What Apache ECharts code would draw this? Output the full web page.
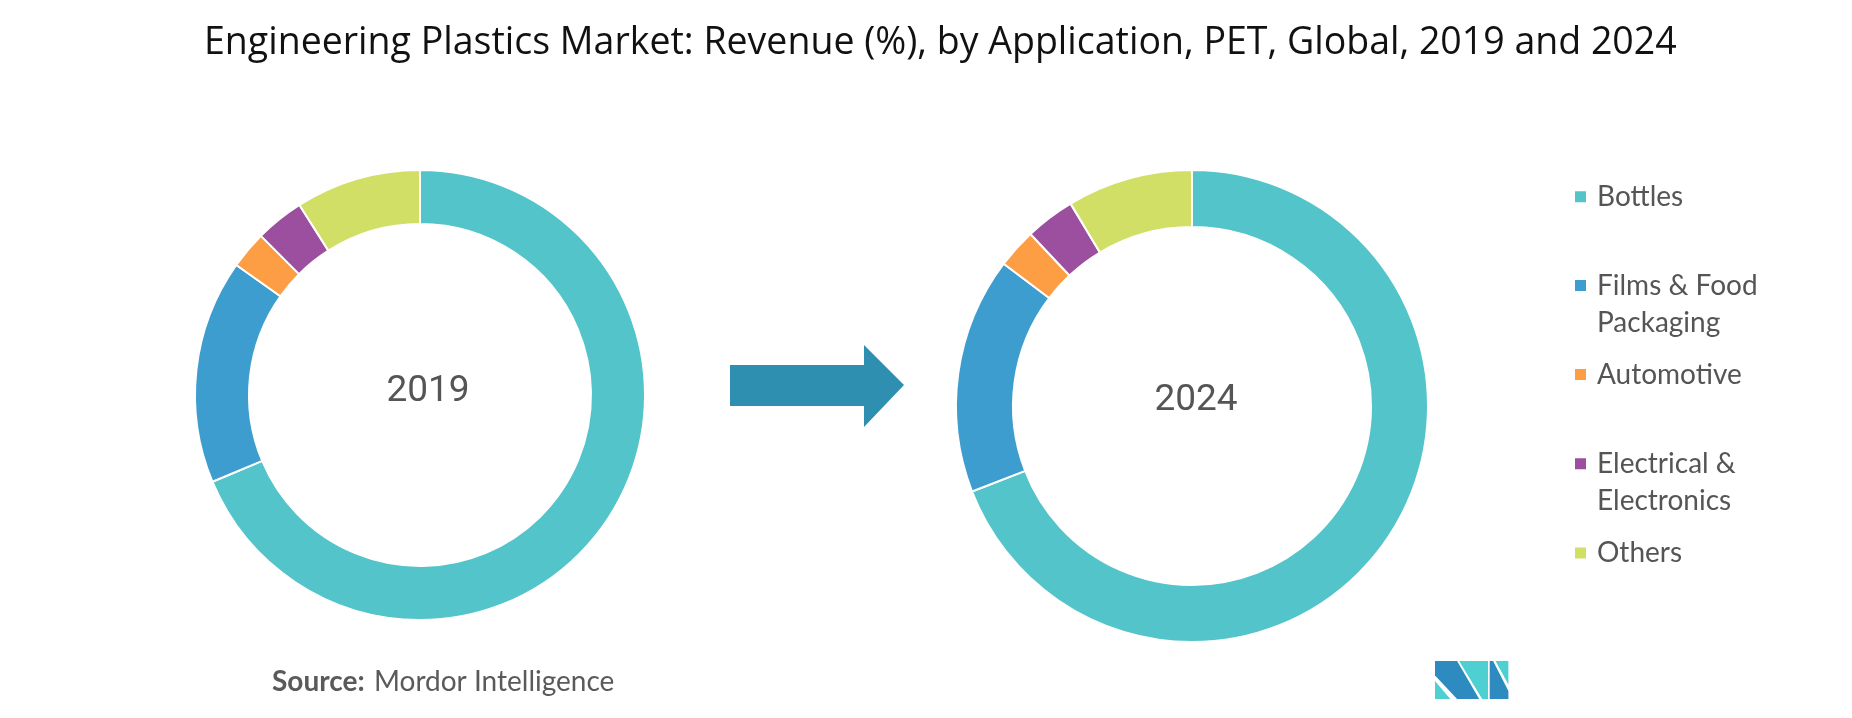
<!DOCTYPE html>
<html>
<head>
<meta charset="utf-8">
<script src="https://cdn.jsdelivr.net/npm/echarts@6/dist/echarts.min.js"></script>
<style>
html,body{margin:0;padding:0;background:#fff;}
#chart{width:1852px;height:718px;}
</style>
</head>
<body>
<div id="chart"></div>
<script>
const categories = ['Bottles', 'Films & Food Packaging', 'Automotive', 'Electrical & Electronics', 'Others'];
const legendLabels = ['Bottles', 'Films & Food\nPackaging', 'Automotive', 'Electrical &\nElectronics', 'Others'];
const years = ['2019', '2024'];
const values2019 = [68.7, 16.1, 2.7, 3.5, 9.0];
const values2024 = [69.1, 16.2, 2.7, 3.4, 8.6];
const colors = ['#53C4C9', '#3E9DCF', '#FD9E44', '#9B4F9E', '#D1DF66'];

const chart = echarts.init(document.getElementById('chart'), null, {renderer: 'canvas'});

const legendIconCenters = [196.7, 285.5, 374.5, 463.7, 553];
const LH = 37;
const legends = categories.map((name, i) => {
  const twoLine = legendLabels[i].indexOf('\n') >= 0;
  return {
    orient: 'vertical',
    left: 1573,
    top: twoLine ? legendIconCenters[i] - 1.5 * LH : legendIconCenters[i] - LH / 2,
    padding: 0,
    itemWidth: 13,
    itemHeight: 13,
    icon: 'rect',
    selectedMode: false,
    data: [name],
    formatter: () => (twoLine ? '\n' : '') + legendLabels[i],
    textStyle: {
      fontFamily: 'Lato',
      fontSize: 28,
      lineHeight: LH,
      color: '#555555',
      padding: [0, 0, 0, 5]
    }
  };
});

function pieSeries(name, values, center, radius) {
  return {
    type: 'pie',
    name: name,
    center: center,
    radius: radius,
    startAngle: 90,
    clockwise: true,
    avoidLabelOverlap: false,
    label: {show: false},
    labelLine: {show: false},
    emphasis: {disabled: true},
    itemStyle: {borderColor: '#ffffff', borderWidth: 2},
    data: categories.map((c, i) => ({name: c, value: values[i]}))
  };
}

const option = {
  animation: false,
  color: colors,
  title: {
    text: 'Engineering Plastics Market: Revenue (%), by Application, PET, Global, 2019 and 2024',
    left: 204,
    top: 24,
    padding: 0,
    textStyle: {fontFamily: 'Open Sans', fontSize: 37.5, fontWeight: 'normal', color: '#111111'}
  },
  legend: legends,
  series: [
    pieSeries(years[0], values2019, [420, 395], [171, 225]),
    pieSeries(years[1], values2024, [1192, 406], [179, 236])
  ],
  graphic: [
    {type: 'text', x: 428, y: 392, style: {text: years[0], fontFamily: 'Roboto', fontSize: 37, fill: '#555555', align: 'center', verticalAlign: 'middle'}},
    {type: 'text', x: 1196, y: 401, style: {text: years[1], fontFamily: 'Roboto', fontSize: 37, fill: '#555555', align: 'center', verticalAlign: 'middle'}},
    {type: 'polygon', shape: {points: [[730, 365], [864, 365], [864, 345], [904, 385], [864, 427], [864, 406], [730, 406]]}, style: {fill: '#2E8FB0'}},
    {type: 'text', x: 272, y: 682, style: {
      text: '{b|Source:} {r|Mordor Intelligence}',
      verticalAlign: 'middle',
      rich: {
        b: {fontFamily: 'Lato', fontSize: 28, fontWeight: 'bold', fill: '#5a5a5a', padding: [0, 6, 0, 0]},
        r: {fontFamily: 'Lato', fontSize: 28, fill: '#5a5a5a'}
      }
    }},
    {type: 'polygon', shape: {points: [[1435, 661], [1457.1, 661], [1479.2, 699], [1457.1, 699], [1435, 675.6]]}, style: {fill: '#2D8BC0'}},
    {type: 'polygon', shape: {points: [[1435, 681], [1435, 699], [1450.3, 699]]}, style: {fill: '#4ECFD2'}},
    {type: 'polygon', shape: {points: [[1459.1, 661], [1488, 661], [1488, 699], [1482.2, 699]]}, style: {fill: '#4ECFD2'}},
    {type: 'polygon', shape: {points: [[1489.7, 661], [1493.1, 661], [1508.4, 691], [1508.4, 699], [1489.7, 699]]}, style: {fill: '#2D8BC0'}},
    {type: 'polygon', shape: {points: [[1495.5, 661], [1508.4, 661], [1508.4, 684.4]]}, style: {fill: '#4ECFD2'}}
  ]
};
chart.setOption(option);
</script>
</body>
</html>
